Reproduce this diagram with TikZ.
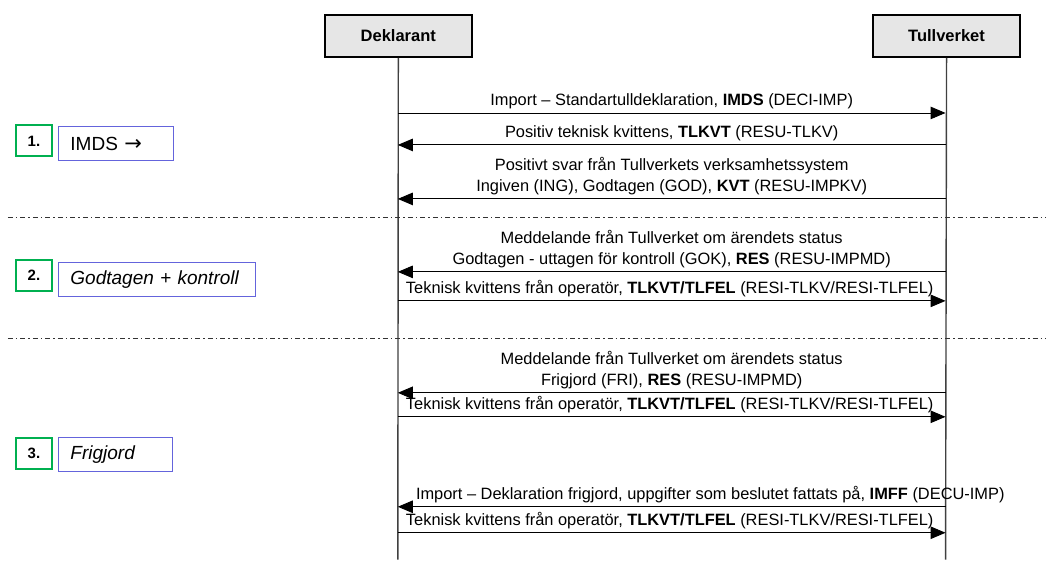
\documentclass[tikz,border=0pt]{standalone}
\usepackage{fontspec}
\setmainfont{Liberation Sans}
\newfontfamily\arrowfont{DejaVu Sans}
\usetikzlibrary{arrows.meta}
\definecolor{hdrfill}{RGB}{230,230,230}
\definecolor{stepgreen}{RGB}{0,176,80}
\definecolor{phaseblue}{RGB}{100,100,220}
\definecolor{lifegray}{RGB}{64,64,64}
\begin{document}
\begin{tikzpicture}[x=1pt,y=-1pt,
  actor/.style={draw=black, line width=2pt, fill=hdrfill, minimum width=147pt, minimum height=42pt, font=\fontsize{16.5}{19}\selectfont\bfseries, inner sep=0},
  lifeline/.style={draw=lifegray, line width=1.4pt},
  msg/.style={draw=black, line width=0.9pt, -{Triangle[length=15pt,width=12.5pt]}},
  msgtext/.style={font=\fontsize{16.4}{20.5}\selectfont, align=center, inner sep=0, anchor=south},
  sepline/.style={draw=black!80, line width=1pt, dash pattern=on 5pt off 3pt on 1.5pt off 3pt},
  stepnum/.style={draw=stepgreen, line width=2pt, minimum width=36pt, minimum height=31pt, inner sep=0, font=\fontsize{15}{17}\selectfont\bfseries, anchor=west},
  phase/.style={draw=phaseblue, line width=1pt, minimum height=34pt, inner xsep=12pt, inner ysep=0, anchor=west, align=left, font=\fontsize{19}{22}\selectfont}
]
\fill[white] (0,0) rectangle (1046,560);

% actors
\node[actor] (dek) at (398.5,36) {Deklarant};
\node[actor] (tull) at (947,36) {Tullverket};
\coordinate (dEnd) at (398,560);
\coordinate (tEnd) at (946,560);
\draw[lifeline] (dek.south) -- (dEnd);
\draw[lifeline] (tull.south) -- (tEnd);

% separators
\coordinate (s1a) at (8,218); \coordinate (s1b) at (1046,218);
\coordinate (s2a) at (8,339); \coordinate (s2b) at (1046,339);
\draw[sepline] (s1a) -- (s1b);
\draw[sepline] (s2a) -- (s2b);

% phase labels
\node[stepnum] (n1) at (15,141) {1.};
\node[phase, text width=91pt] (p1) at (58,144) {IMDS {\arrowfont\fontsize{21}{22}\selectfont →}};
\node[stepnum] (n2) at (15,275.5) {2.};
\node[phase, text width=173pt] (p2) at (58,279.5) {\itshape Godtagen + kontroll};
\node[stepnum] (n3) at (15,453.5) {3.};
\node[phase, text width=90pt] (p3) at (58,455) {\itshape Frigjord};

% message end points
\foreach \i/\y in {1/113,2/145,3/199,4/272,5/301,6/393,7/417,8/507,9/533}{
  \coordinate (d\i) at (398,\y);
  \coordinate (t\i) at (946,\y);
}

% messages
\draw[msg] (d1) -- (t1);
\node[msgtext] (m1) at (672,109) {Import – Standartulldeklaration, \textbf{IMDS} (DECI-IMP)};
\draw[msg] (t2) -- (d2);
\node[msgtext] (m2) at (672,141) {Positiv teknisk kvittens, \textbf{TLKVT} (RESU-TLKV)};
\draw[msg] (t3) -- (d3);
\node[msgtext] (m3) at (672,195) {Positivt svar från Tullverkets verksamhetssystem\\Ingiven (ING), Godtagen (GOD), \textbf{KVT} (RESU-IMPKV)};
\draw[msg] (t4) -- (d4);
\node[msgtext] (m4) at (672,268) {Meddelande från Tullverket om ärendets status\\Godtagen - uttagen för kontroll (GOK), \textbf{RES} (RESU-IMPMD)};
\draw[msg] (d5) -- (t5);
\node[msgtext] (m5) at (670,297) {Teknisk kvittens från operatör, \textbf{TLKVT/TLFEL} (RESI-TLKV/RESI-TLFEL)};
\draw[msg] (t6) -- (d6);
\node[msgtext] (m6) at (672,389) {Meddelande från Tullverket om ärendets status\\Frigjord (FRI), \textbf{RES} (RESU-IMPMD)};
\draw[msg] (d7) -- (t7);
\node[msgtext] (m7) at (670,413) {Teknisk kvittens från operatör, \textbf{TLKVT/TLFEL} (RESI-TLKV/RESI-TLFEL)};
\draw[msg] (t8) -- (d8);
\node[msgtext, anchor=south west] (m8) at (416,503) {Import – Deklaration frigjord, uppgifter som beslutet fattats på, \textbf{IMFF} (DECU-IMP)};
\draw[msg] (d9) -- (t9);
\node[msgtext] (m9) at (670,529) {Teknisk kvittens från operatör, \textbf{TLKVT/TLFEL} (RESI-TLKV/RESI-TLFEL)};
\end{tikzpicture}
\end{document}
